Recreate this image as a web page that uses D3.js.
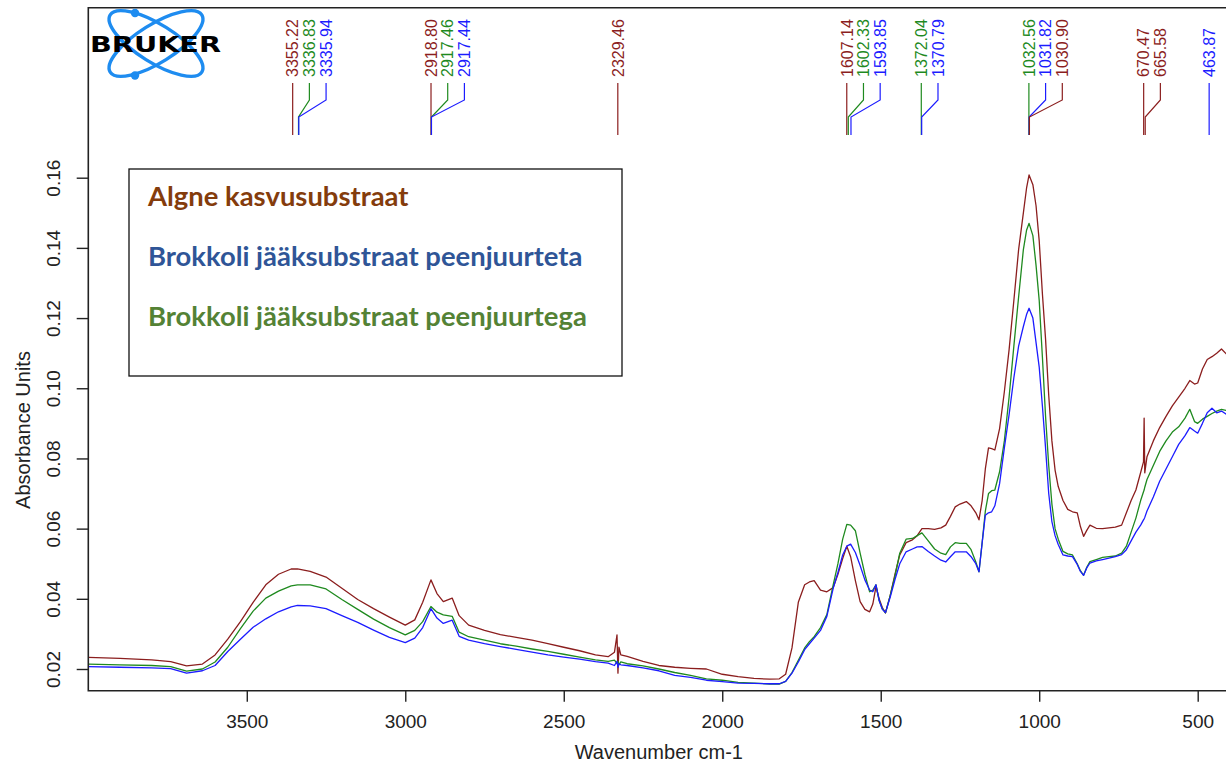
<!DOCTYPE html>
<html>
<head>
<meta charset="utf-8">
<script src="https://cdn.jsdelivr.net/npm/d3@7"></script>
<style>
body { margin: 0; background: #fff; }
svg { display: block; font-family: "Liberation Sans", Arial, sans-serif; }
</style>
</head>
<body>
<div id="chart"></div>
<script>
// wavenumbers (cm-1) the three spectra were read at
var wavenumbers = [
  4000,3900,3800,3740,3690,3640,3600,3560,3520,3480,
  3440,3400,3360,3340,3300,3250,3200,3150,3100,3050,
  3000,2970,2945,2919,2900,2880,2852,2830,2800,2750,
  2700,2650,2600,2550,2500,2450,2400,2360,2340,2332,
  2329,2326,2320,2300,2250,2200,2150,2100,2050,2000,
  1950,1900,1850,1820,1800,1780,1760,1740,1725,1710,
  1690,1670,1650,1635,1620,1607,1595,1580,1565,1550,
  1535,1525,1515,1505,1495,1485,1470,1455,1440,1420,
  1400,1385,1370,1350,1330,1310,1295,1280,1265,1250,
  1230,1215,1200,1190,1180,1170,1160,1150,1140,1125,
  1110,1095,1080,1065,1050,1040,1032,1020,1010,1000,
  990,980,970,960,950,940,925,910,895,880,
  870,860,850,840,820,800,780,760,740,725,
  710,695,680,671,669,667,660,640,620,600,
  580,560,540,525,510,500,485,470,455,440,
  425,410,400
];

// Algne kasvusubstraat
var algne = [
  .0233,.0230,.0226,.0221,.0209,.0214,.0240,.0285,.0335,.0390,
  .0440,.0470,.0485,.0485,.0478,.0462,.0430,.0398,.0372,.0348,
  .0325,.0340,.0390,.0454,.0415,.0392,.0402,.0352,.0325,.0310,
  .0298,.0290,.0282,.0272,.0262,.0252,.0240,.0235,.0248,.0297,
  .0188,.0262,.0240,.0236,.0222,.0210,.0205,.0202,.0200,.0185,
  .0178,.0173,.0171,.0172,.0185,.0260,.0390,.0440,.0448,.0452,
  .0425,.0420,.0432,.0470,.0515,.0550,.0520,.0452,.0392,.0370,
  .0363,.0385,.0435,.0400,.0375,.0360,.0410,.0470,.0525,.0560,
  .0568,.0580,.0600,.0600,.0598,.0602,.0610,.0635,.0662,.0670,
  .0677,.0665,.0645,.0625,.0680,.0770,.0830,.0828,.0824,.0885,
  .0990,.1110,.1250,.1395,.1500,.1570,.1608,.1580,.1520,.1420,
  .1270,.1140,.0980,.0850,.0767,.0720,.0680,.0655,.0648,.0645,
  .0606,.0578,.0595,.0610,.0601,.0600,.0602,.0604,.0610,.0645,
  .0680,.0710,.0760,.0790,.0915,.0759,.0805,.0850,.0888,.0920,
  .0950,.0975,.1000,.1022,.1012,.1015,.1055,.1082,.1090,.1100,
  .1112,.1098,.1100
];

// Brokkoli jääksubstraat peenjuurtega
var peenjuurtega = [
  .0214,.0212,.0210,.0207,.0194,.0200,.0220,.0262,.0315,.0365,
  .0402,.0422,.0437,.0440,.0440,.0428,.0398,.0370,.0342,.0318,
  .0297,.0310,.0335,.0378,.0362,.0354,.0350,.0305,.0292,.0282,
  .0272,.0265,.0257,.0250,.0242,.0234,.0226,.0222,.0225,.0215,
  .0222,.0212,.0220,.0215,.0209,.0200,.0190,.0182,.0172,.0168,
  .0162,.0160,.0157,.0157,.0165,.0190,.0225,.0260,.0278,.0292,
  .0318,.0355,.0440,.0500,.0570,.0612,.0610,.0594,.0530,.0470,
  .0420,.0425,.0440,.0395,.0372,.0360,.0410,.0465,.0530,.0570,
  .0572,.0580,.0588,.0565,.0542,.0530,.0526,.0548,.0560,.0558,
  .0558,.0540,.0505,.0477,.0560,.0650,.0700,.0708,.0710,.0762,
  .0850,.0975,.1120,.1260,.1395,.1450,.1470,.1435,.1350,.1250,
  .1090,.0920,.0780,.0670,.0600,.0570,.0535,.0528,.0525,.0500,
  .0480,.0467,.0490,.0506,.0512,.0518,.0520,.0522,.0530,.0550,
  .0590,.0630,.0680,.0705,.0710,.0718,.0740,.0780,.0820,.0850,
  .0875,.0890,.0915,.0940,.0905,.0900,.0912,.0920,.0928,.0935,
  .0940,.0937,.0938
];

// Brokkoli jääksubstraat peenjuurteta
var peenjuurteta = [
  .0207,.0205,.0203,.0201,.0188,.0195,.0210,.0250,.0285,.0319,
  .0343,.0363,.0377,.0381,.0380,.0372,.0352,.0333,.0311,.0290,
  .0275,.0288,.0318,.0372,.0345,.0330,.0339,.0293,.0282,.0272,
  .0264,.0256,.0248,.0240,.0234,.0228,.0221,.0217,.0210,.0222,
  .0205,.0215,.0212,.0210,.0203,.0195,.0182,.0176,.0168,.0164,
  .0160,.0159,.0158,.0158,.0165,.0188,.0220,.0255,.0272,.0288,
  .0310,.0350,.0430,.0475,.0525,.0550,.0556,.0532,.0495,.0454,
  .0425,.0420,.0440,.0395,.0370,.0361,.0405,.0455,.0500,.0534,
  .0542,.0548,.0549,.0535,.0522,.0510,.0505,.0520,.0534,.0534,
  .0534,.0520,.0500,.0477,.0560,.0638,.0645,.0648,.0665,.0728,
  .0830,.0925,.1030,.1120,.1176,.1210,.1228,.1200,.1130,.1060,
  .0950,.0830,.0700,.0620,.0580,.0555,.0525,.0522,.0520,.0498,
  .0478,.0467,.0488,.0502,.0508,.0512,.0516,.0520,.0526,.0540,
  .0565,.0590,.0610,.0625,.0628,.0632,.0650,.0690,.0735,.0770,
  .0805,.0840,.0865,.0888,.0878,.0872,.0900,.0930,.0943,.0930,
  .0935,.0926,.0926
];

// picked peaks and the spectrum each one belongs to
var peakWavenumbers = [3355.22, 3336.83, 3335.94, 2918.80, 2917.46, 2917.44, 2329.46,
  1607.14, 1602.33, 1593.85, 1372.04, 1370.79, 1032.56, 1031.82, 1030.90, 670.47, 665.58, 463.87];
var peakSeries = ["algne", "peenjuurtega", "peenjuurteta", "algne", "peenjuurtega", "peenjuurteta", "algne",
  "algne", "peenjuurtega", "peenjuurteta", "peenjuurtega", "peenjuurteta", "peenjuurtega", "peenjuurteta", "algne",
  "algne", "algne", "peenjuurteta"];

var xTicks = [3500, 3000, 2500, 2000, 1500, 1000, 500];
var yTicks = [0.02, 0.04, 0.06, 0.08, 0.10, 0.12, 0.14, 0.16];

var legendLabels = ["Algne kasvusubstraat", "Brokkoli jääksubstraat peenjuurteta", "Brokkoli jääksubstraat peenjuurtega"];
var legendColors = ["#843c0c", "#2f5597", "#548235"];

var lineColor = {algne: "#8b1e1e", peenjuurtega: "#1f8a1f", peenjuurteta: "#1c1cff"};
var drawOrder = ["algne", "peenjuurtega", "peenjuurteta"];
var seriesData = {algne: algne, peenjuurtega: peenjuurtega, peenjuurteta: peenjuurteta};

var W = 1226, H = 770;
// plot box (the right edge runs past the picture)
var boxLeft = 88.3, boxTop = 7.7, boxBottom = 690.7, boxRight = 1229.4;

var svg = d3.select("#chart").append("svg")
    .attr("width", W)
    .attr("height", H);

var xScale = d3.scaleLinear().domain([4000, 400]).range([boxLeft, boxRight]);
var yScale = d3.scaleLinear().domain([0.02, 0.16]).range([669, 177.7]);

svg.append("defs").append("clipPath")
    .attr("id", "clip")
  .append("rect")
    .attr("x", boxLeft).attr("y", boxTop)
    .attr("width", boxRight - boxLeft).attr("height", boxBottom - boxTop);

// spectra
var line = d3.line()
    .x(function(d) { return xScale(d[0]); })
    .y(function(d) { return yScale(d[1]); });

var lines_g = svg.append("g").attr("clip-path", "url(#clip)");
drawOrder.forEach(function(key) {
    var pts = wavenumbers.map(function(w, i) { return [w, seriesData[key][i]]; });
    lines_g.append("path")
        .datum(pts)
        .attr("d", line)
        .attr("fill", "none")
        .attr("stroke", lineColor[key])
        .attr("stroke-width", 1.3)
        .attr("stroke-linejoin", "round");
});

// axes
var xAxis = d3.axisBottom(xScale).tickValues(xTicks).tickSize(11).tickPadding(13).tickFormat(d3.format("d"));
var gX = svg.append("g")
    .attr("transform", "translate(0," + boxBottom + ")")
    .call(xAxis);
gX.select(".domain").remove();
gX.selectAll("line").attr("stroke", "#222").attr("stroke-width", 1.4);
gX.selectAll("text").style("font-size", "19px").attr("fill", "#222");

var yAxis = d3.axisLeft(yScale).tickValues(yTicks).tickSize(11.6).tickFormat(d3.format(".2f"));
var gY = svg.append("g")
    .attr("transform", "translate(" + boxLeft + ",0)")
    .call(yAxis);
gY.select(".domain").remove();
gY.selectAll("line").attr("stroke", "#222").attr("stroke-width", 1.4);
gY.selectAll("text")
    .attr("x", null).attr("dy", null)
    .attr("transform", "translate(-28,0) rotate(-90)")
    .style("text-anchor", "middle")
    .style("font-size", "19px")
    .attr("fill", "#222");

// frame
svg.append("path")
    .attr("d", "M" + boxRight + "," + boxTop + "H" + boxLeft + "V" + boxBottom + "H" + boxRight)
    .attr("fill", "none")
    .attr("stroke", "#222")
    .attr("stroke-width", 1.6);

svg.append("text")
    .attr("x", (boxLeft + boxRight) / 2).attr("y", 759)
    .attr("text-anchor", "middle")
    .style("font-size", "20px")
    .attr("fill", "#222")
    .text("Wavenumber cm-1");

svg.append("text")
    .attr("transform", "translate(30,430) rotate(-90)")
    .attr("text-anchor", "middle")
    .style("font-size", "20px")
    .attr("fill", "#222")
    .text("Absorbance Units");

// peak labels, spread so that they do not overlap
var peaks = peakWavenumbers.map(function(w, i) { return {wn: w, series: peakSeries[i], px: xScale(w)}; });
var prev = -1e9;
peaks.forEach(function(p) {
    p.lx = Math.max(p.px, prev + 16.7);
    prev = p.lx;
});

var peak_g = svg.append("g");
peak_g.selectAll("path").data(peaks).join("path")
    .attr("d", function(p) {
        return "M" + p.lx + ",83V100L" + p.px + ",117V135";
    })
    .attr("fill", "none")
    .attr("stroke", function(p) { return lineColor[p.series]; })
    .attr("stroke-width", 1.2);

peak_g.selectAll("text").data(peaks).join("text")
    .attr("transform", function(p) { return "translate(" + p.lx + ",77) rotate(-90)"; })
    .attr("dy", "0.36em")
    .style("font-size", "16px")
    .attr("fill", function(p) { return lineColor[p.series]; })
    .text(function(p) { return d3.format(".2f")(p.wn); });

// legend
var legend = svg.append("g");
legend.append("rect")
    .attr("x", 129).attr("y", 169)
    .attr("width", 493).attr("height", 207)
    .attr("fill", "#fff")
    .attr("stroke", "#111")
    .attr("stroke-width", 1.3);
var legendTexts = legend.selectAll("text").data(legendLabels).join("text")
    .attr("x", 148)
    .attr("y", function(d, i) { return 206 + i * 60; })
    .style("font-family", "Lato, 'Open Sans', sans-serif")
    .style("font-weight", "bold")
    .style("font-size", "24px")
    .attr("fill", function(d, i) { return legendColors[i]; })
    .text(function(d) { return d; });
var widest = d3.max(legendTexts.nodes(), function(n) { return n.getComputedTextLength(); });
legendTexts.style("font-size", (24 * 439 / widest) + "px");

// Bruker logo
var logo = svg.append("g").attr("transform", "translate(156,43.5)");
[-32, 32].forEach(function(a) {
    logo.append("ellipse")
        .attr("rx", 54).attr("ry", 19)
        .attr("transform", "rotate(" + a + ")")
        .attr("fill", "none")
        .attr("stroke", "#1e8cf0")
        .attr("stroke-width", 3.4);
});
[[-21, -30.5], [-21, 32]].forEach(function(c) {
    logo.append("circle").attr("cx", c[0]).attr("cy", c[1]).attr("r", 4.2).attr("fill", "#1e8cf0");
});
logo.append("text")
    .attr("x", -66).attr("y", 8)
    .attr("textLength", 131)
    .attr("lengthAdjust", "spacingAndGlyphs")
    .style("font-family", "'DejaVu Sans', sans-serif")
    .style("font-weight", "bold")
    .style("font-size", "21px")
    .attr("fill", "#000")
    .text("BRUKER");
</script>
</body>
</html>
